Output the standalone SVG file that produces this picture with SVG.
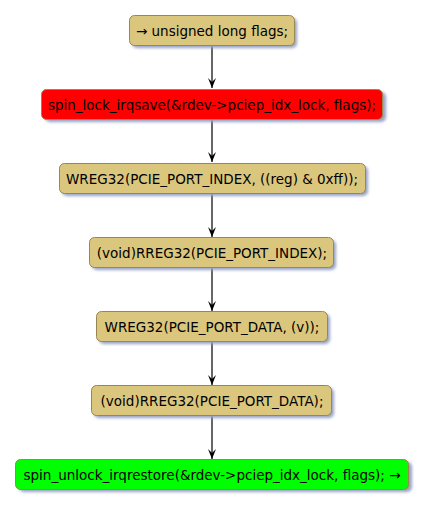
<svg xmlns="http://www.w3.org/2000/svg" width="427" height="507" viewBox="0 0 427 507">
<defs>
<filter id="sh" x="-10%" y="-30%" width="120%" height="180%">
<feGaussianBlur stdDeviation="1.5"/>
</filter>
<style>
.box{stroke:#9A8652;stroke-width:1}
.tan{fill:#DBC67D}
.red{fill:#FF0000}
.green{fill:#00FF00}
.shadow{fill:#98A2C2;filter:url(#sh)}
text{font-family:"DejaVu Sans",Verdana,sans-serif;font-size:13.5px;fill:#000;text-anchor:middle}
.ln{stroke:#000;stroke-width:1.2;fill:none}
.ah{fill:#000}
</style>
</defs>
<rect width="427" height="507" fill="#fff"/>
<g id="connectors">
<line class="ln" x1="212" y1="45" x2="212" y2="88"/><polygon class="ah" points="208,78 212,88 216,78 212,82"/>
<line class="ln" x1="212" y1="119" x2="212" y2="162"/><polygon class="ah" points="208,152 212,162 216,152 212,156"/>
<line class="ln" x1="212" y1="193" x2="212" y2="237"/><polygon class="ah" points="208,227 212,237 216,227 212,231"/>
<line class="ln" x1="212" y1="267" x2="212" y2="311"/><polygon class="ah" points="208,301 212,311 216,301 212,305"/>
<line class="ln" x1="212" y1="341" x2="212" y2="385"/><polygon class="ah" points="208,375 212,385 216,375 212,379"/>
<line class="ln" x1="212" y1="415" x2="212" y2="459"/><polygon class="ah" points="208,449 212,459 216,449 212,453"/>
</g>
<g id="n1">
<rect class="shadow" x="132" y="18" width="165" height="30" rx="5"/>
<rect class="box tan" x="129.5" y="15.5" width="165" height="30" rx="5"/>
<text x="212" y="35.5">→ unsigned long flags;</text>
</g>
<g id="n2">
<rect class="shadow" x="45" y="92" width="341" height="30" rx="5"/>
<rect class="box red" x="41.5" y="89.5" width="341" height="30" rx="5"/>
<text x="212" y="109.5">spin_lock_irqsave(&amp;rdev-&gt;pciep_idx_lock, flags);</text>
</g>
<g id="n3">
<rect class="shadow" x="62" y="166" width="306" height="30" rx="5"/>
<rect class="box tan" x="59.5" y="163.5" width="306" height="30" rx="5"/>
<text x="212" y="183.5">WREG32(PCIE_PORT_INDEX, ((reg) &amp; 0xff));</text>
</g>
<g id="n4">
<rect class="shadow" x="92" y="240" width="244" height="30" rx="5"/>
<rect class="box tan" x="89.5" y="237.5" width="244" height="30" rx="5"/>
<text x="212" y="257.5">(void)RREG32(PCIE_PORT_INDEX);</text>
</g>
<g id="n5">
<rect class="shadow" x="99" y="314" width="231" height="30" rx="5"/>
<rect class="box tan" x="96.5" y="311.5" width="231" height="30" rx="5"/>
<text x="212" y="331.5">WREG32(PCIE_PORT_DATA, (v));</text>
</g>
<g id="n6">
<rect class="shadow" x="94" y="388" width="240" height="30" rx="5"/>
<rect class="box tan" x="91.5" y="385.5" width="240" height="30" rx="5"/>
<text x="212" y="405.5">(void)RREG32(PCIE_PORT_DATA);</text>
</g>
<g id="n7">
<rect class="shadow" x="19" y="462" width="393" height="30" rx="5"/>
<rect class="box green" x="15.5" y="459.5" width="393" height="30" rx="5"/>
<text x="212" y="479.5">spin_unlock_irqrestore(&amp;rdev-&gt;pciep_idx_lock, flags); →</text>
</g>
</svg>
